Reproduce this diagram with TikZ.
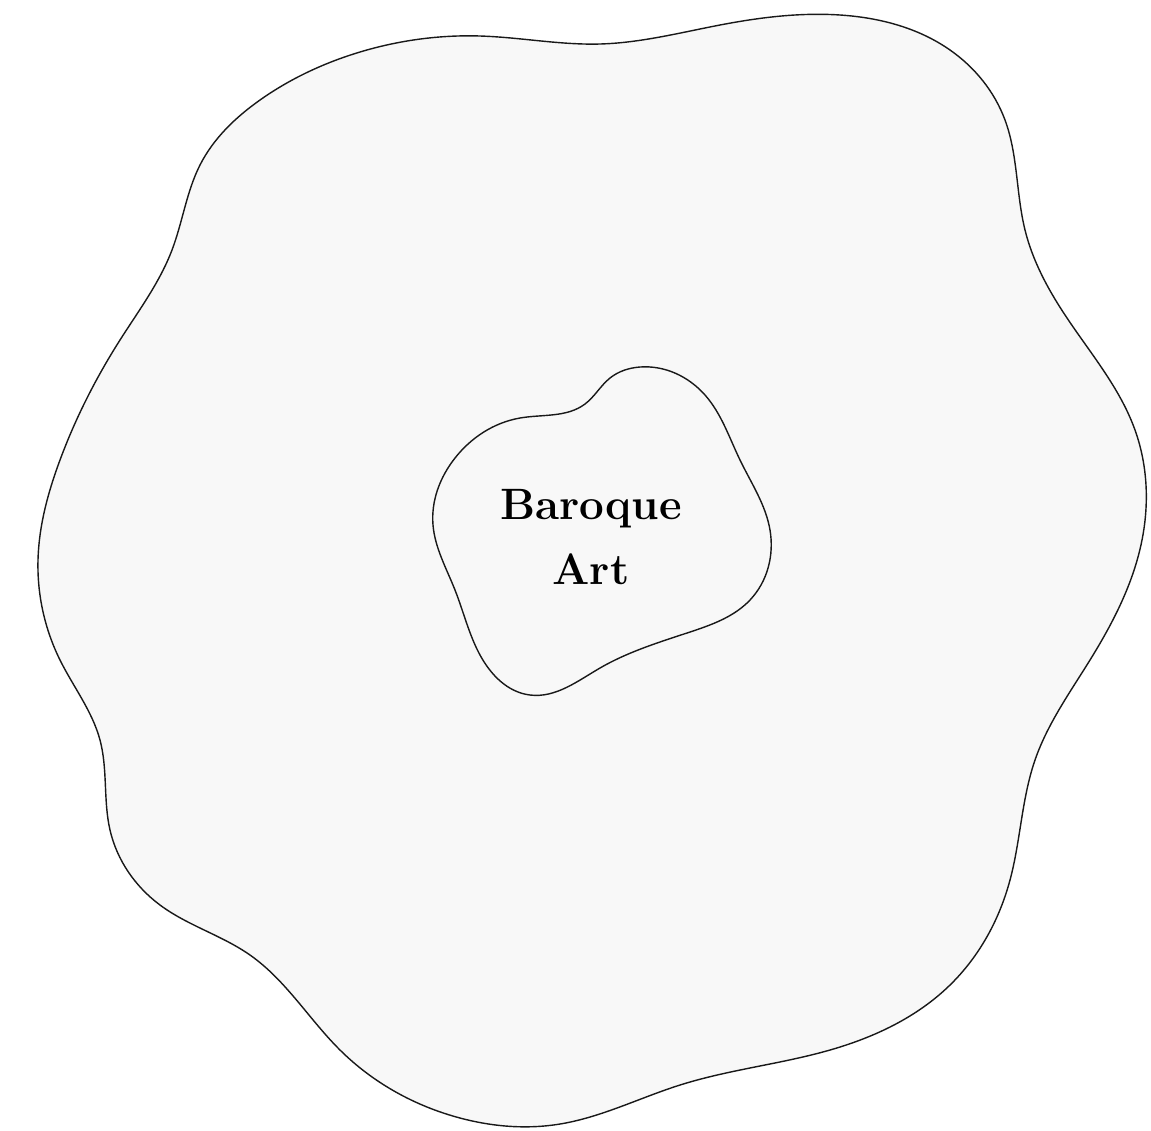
\documentclass[tikz,border=0pt]{standalone}
\usepackage{tikz}
\usetikzlibrary{hobby}
\definecolor{paper}{RGB}{248,248,248}

\begin{document}
\begin{tikzpicture}[x=0.02cm,y=-0.02cm,
  blob/.style={line width=0.8pt,black!90,use Hobby shortcut,closed=true},
  gothlbl/.style={align=center,font=\fontsize{25}{37}\selectfont\bfseries}]
\useasboundingbox (0,0) rectangle (1151,1130);

% outer wavy region
\filldraw[blob,fill=paper]
  (600,44) .. (480,36) .. (360,52) .. (260,100) .. (200,165) .. (172,250)
  .. (120,340) .. (60,460) .. (38,560) .. (60,660) .. (100,740) .. (110,830)
  .. (160,905) .. (250,955) .. (340,1050) .. (460,1118) .. (560,1124)
  .. (680,1085) .. (830,1050) .. (950,985) .. (1010,880) .. (1035,760)
  .. (1090,660) .. (1142,540) .. (1135,430) .. (1065,315) .. (1025,230)
  .. (1005,120) .. (950,50) .. (840,15) .. (720,25);

% inner region
\draw[blob]
  (640,367) .. (705,395) .. (740,460) .. (770,530) .. (750,600) .. (690,632)
  .. (600,668) .. (530,695) .. (480,655) .. (455,590) .. (433,525)
  .. (455,458) .. (520,418) .. (585,404) .. (610,378);

\node[gothlbl] (baroque) at (591,537) {Baroque\\Art};

\end{tikzpicture}
\end{document}
